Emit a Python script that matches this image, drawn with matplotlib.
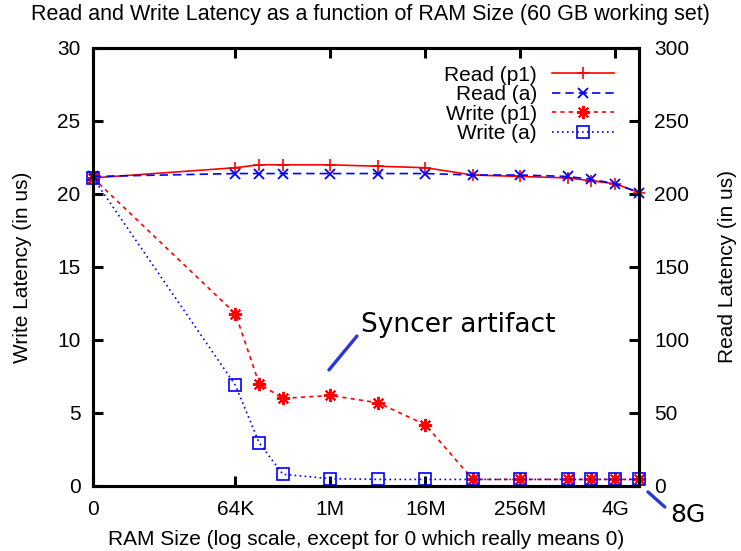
import numpy as np
import matplotlib
matplotlib.use("Agg")
import matplotlib.pyplot as plt
from matplotlib.ticker import MultipleLocator

plt.rc("font", family="Liberation Sans")

# RAM sizes in bytes; 0 is drawn at the 1K slot ("0 really means 0")
ram_bytes = [0, 2**16, 2**17, 2**18, 2**20, 2**22, 2**24, 2**26, 2**28,
             2**30, 2**31, 2**32, 2**33]
read_p1 = [211, 218, 220, 220, 220, 219, 218, 213, 212, 211, 209, 207, 201]
read_a = [212, 214, 214, 214, 214, 214, 214, 213, 213, 212, 210, 207, 201]
write_p1 = [21.1, 11.8, 7.0, 6.0, 6.2, 5.7, 4.2, 0.45, 0.45, 0.45, 0.45, 0.45, 0.45]
write_a = [21.1, 6.9, 2.95, 0.8, 0.5, 0.45, 0.45, 0.45, 0.45, 0.45, 0.45, 0.45, 0.45]

tick_bytes = [0, 2**16, 2**20, 2**24, 2**28, 2**32]
tick_labels = ["0", "64K", "1M", "16M", "256M", "4G"]


def xpos(b):
    return np.log2(np.maximum(np.asarray(b, dtype=float), 2**10))


x = xpos(ram_bytes)

fig = plt.figure(figsize=(7.41, 5.51), dpi=100)
ax = fig.add_axes([0.1255, 0.118, 0.7368, 0.7949])
ax2 = ax.twinx()

red = "#ff0000"
blue = "#0000ff"

l1, = ax2.plot(x, read_p1, "-", color=red, lw=1.2, marker="+", ms=9,
               mew=1.2, clip_on=False, label="Read (p1)")
l2, = ax2.plot(x, read_a, color=blue, lw=1.2, ls=(0, (5, 3)), marker="x",
               ms=7.5, mew=1.3, clip_on=False, label="Read (a)")
l3, = ax.plot(x, write_p1, color=red, lw=1.2, ls=(0, (2.5, 2.5)),
              marker=(8, 2, 0), ms=9.5, mew=1.4, clip_on=False, label="Write (p1)")
l4, = ax.plot(x, write_a, color=blue, lw=1.2, ls=(0, (1, 2)), marker="s",
              ms=8, mfc="none", mew=1.2, clip_on=False, label="Write (a)")

ax.set_xlim(10, 33)
ax.set_ylim(0, 30)
ax2.set_ylim(0, 300)
ax.yaxis.set_major_locator(MultipleLocator(5))
ax2.yaxis.set_major_locator(MultipleLocator(50))
ax.set_xticks(xpos(tick_bytes))
ax.set_xticklabels(tick_labels)

for a in (ax, ax2):
    for s in a.spines.values():
        s.set_linewidth(2.2)
ax.tick_params(axis="x", direction="in", top=True, length=7, width=2.2,
               labelsize=15, pad=10)
ax.tick_params(axis="y", direction="in", right=False, length=7, width=2.2,
               labelsize=15, pad=9)
ax2.tick_params(axis="y", direction="in", length=7, width=2.2,
                labelsize=15, pad=11)

ax.set_ylabel("Write Latency (in us)", fontsize=15)
ax.yaxis.set_label_coords(-0.112, 0.5)
ax2.set_ylabel("Read Latency (in us)", fontsize=15)
ax2.yaxis.set_label_coords(1.145, 0.5)
ax.set_xlabel("RAM Size (log scale, except for 0 which really means 0)",
              fontsize=15)
ax.xaxis.set_label_coords(0.5, -0.1)
fig.text(0.5, 0.973, "Read and Write Latency as a function of RAM Size (60 GB working set)",
         ha="center", va="center", fontsize=15.5)

leg = ax2.legend(handles=[l1, l2, l3, l4], loc="upper right",
                 bbox_to_anchor=(0.955, 0.96), frameon=False, markerfirst=False,
                 fontsize=15, handlelength=3.0, handletextpad=0.72,
                 labelspacing=0.03, borderaxespad=0, borderpad=0)

# annotations
note_c = "#2a36d8"
ax.annotate("", xy=(19.94, 7.95), xytext=(21.12, 10.27),
            arrowprops=dict(arrowstyle="-", lw=2.4, color=note_c,
                            shrinkA=0, shrinkB=0))
ax.text(21.28, 10.57, "Syncer artifact", family="DejaVu Sans", fontsize=19,
        ha="left", va="baseline")
ax.annotate("", xy=(33.38, -0.41), xytext=(34.09, -1.44),
            arrowprops=dict(arrowstyle="-", lw=2.4, color=note_c,
                            shrinkA=0, shrinkB=0), annotation_clip=False)
ax.text(34.33, -1.99, "8G", family="DejaVu Sans", fontsize=18,
        ha="left", va="center", clip_on=False)

fig.savefig("out.png", dpi=100)
